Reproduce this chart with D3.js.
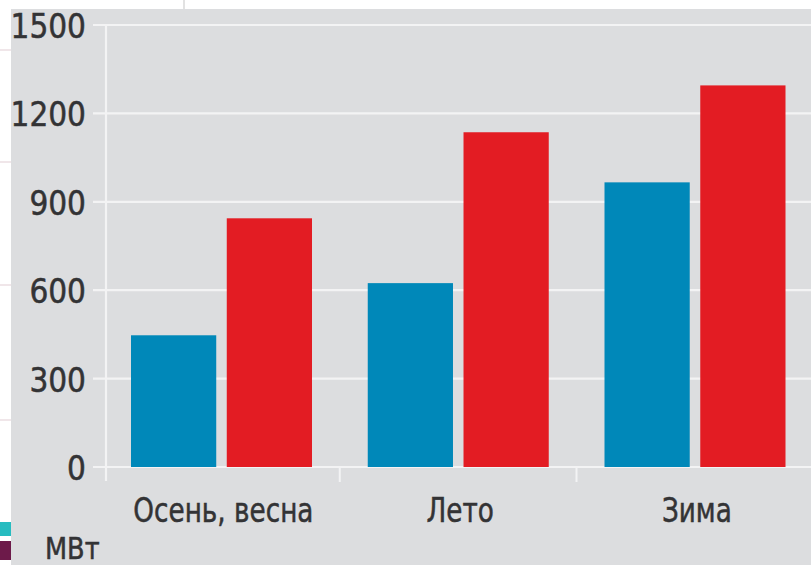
<!DOCTYPE html>
<html>
<head>
<meta charset="utf-8">
<script src="https://cdn.jsdelivr.net/npm/d3@7"></script>
<style>
  html, body { margin: 0; padding: 0; background: #ffffff; }
  svg { display: block; }
  .lbl { font-family: "DejaVu Sans Condensed", "Liberation Sans Narrow", "Roboto", sans-serif; fill: #333335; stroke: #333335; stroke-width: 0.5px; }
</style>
</head>
<body>
<script>
const categories = ["Осень, весна", "Лето", "Зима"];
const series = ["s1", "s2"];
const seriesColors = ["#0088b9", "#e31c23"];
const valuesBlue = [447, 624, 966];
const valuesRed = [844, 1136, 1295];
const yTicks = [0, 300, 600, 900, 1200, 1500];
const unitLabel = "МВт";

const W = 811, H = 565;
const svg = d3.select("body").append("svg").attr("width", W).attr("height", H);

// artifacts outside the panel
svg.append("line").attr("x1", 184).attr("x2", 184).attr("y1", 0).attr("y2", 9)
  .attr("stroke", "#d8d8d8").attr("stroke-width", 1.5);
[50, 162, 285, 420].forEach(y => {
  svg.append("line").attr("x1", 0).attr("x2", 11).attr("y1", y).attr("y2", y)
    .attr("stroke", "#e6d6da").attr("stroke-width", 1.2);
});
svg.append("rect").attr("x", 0).attr("y", 522).attr("width", 11).attr("height", 14).attr("fill", "#27bcc0");
svg.append("rect").attr("x", 0).attr("y", 541).attr("width", 11).attr("height", 19).attr("fill", "#6d1a4a");

// panel
svg.append("rect").attr("x", 11).attr("y", 9).attr("width", W - 11).attr("height", H - 9).attr("fill", "#dcdddf");

const y = d3.scaleLinear().domain([0, 1500]).range([467, 25]);
const x0 = d3.scaleBand().domain(categories).range([103, 103 + 236.75 * 3]).padding(0);
const x1 = d3.scaleBand().domain(series).range([28, 209]).paddingInner(0.11);

// gridlines
const grid = svg.append("g");
grid.selectAll("line").data(yTicks).join("line")
  .attr("x1", 93).attr("x2", W)
  .attr("y1", d => y(d)).attr("y2", d => y(d))
  .attr("stroke", "#f3f3f4").attr("stroke-width", 2.2);

// vertical axis line
svg.append("line").attr("x1", 106).attr("x2", 106).attr("y1", y(1500)).attr("y2", 481)
  .attr("stroke", "#f3f3f4").attr("stroke-width", 2.2);

// band boundary ticks
svg.append("g").selectAll("line").data(categories.slice(1)).join("line")
  .attr("x1", d => x0(d)).attr("x2", d => x0(d))
  .attr("y1", y(0)).attr("y2", 482)
  .attr("stroke", "#f3f3f4").attr("stroke-width", 2);

// bars
const data = categories.map((c, i) => ({ c, vals: [valuesBlue[i], valuesRed[i]] }));
const groups = svg.append("g").selectAll("g").data(data).join("g")
  .attr("transform", d => `translate(${x0(d.c)},0)`);
groups.selectAll("rect").data(d => d.vals.map((v, j) => ({ s: series[j], v, j }))).join("rect")
  .attr("x", d => x1(d.s))
  .attr("width", x1.bandwidth())
  .attr("y", d => y(d.v))
  .attr("height", d => y(0) - y(d.v))
  .attr("fill", d => seriesColors[d.j]);

// y tick labels
svg.append("g").selectAll("text").data(yTicks).join("text")
  .attr("class", "lbl")
  .attr("transform", d => `translate(86,${y(d) + 13}) scale(0.97,1)`)
  .attr("text-anchor", "end")
  .style("font-size", "34px")
  .text(d => d);

// category labels
svg.append("g").selectAll("text").data(categories).join("text")
  .attr("class", "lbl")
  .attr("transform", d => `translate(${x0(d) + x0.bandwidth() / 2 + 2},522) scale(0.86,1)`)
  .attr("text-anchor", "middle")
  .style("font-size", "34px")
  .text(d => d);

// unit
svg.append("text").attr("class", "lbl")
  .attr("transform", "translate(45,559) scale(0.95,1)")
  .style("font-size", "30px")
  .text(unitLabel);
</script>
</body>
</html>
